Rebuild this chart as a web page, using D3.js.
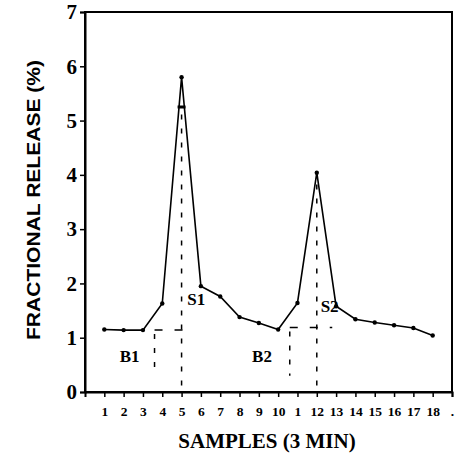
<!DOCTYPE html>
<html>
<head>
<meta charset="utf-8">
<script src="https://cdn.jsdelivr.net/npm/d3@7"></script>
<style>
  body { margin: 0; background: #fff; }
  svg { display: block; }
</style>
</head>
<body>
<svg id="chart" width="460" height="454"></svg>
<script>
// data
const samples = [1, 2, 3, 4, 5, 6, 7, 8, 9, 10, 11, 12, 13, 14, 15, 16, 17, 18]
const release = [1.15, 1.14, 1.14, 1.63, 5.8, 1.95, 1.76, 1.38, 1.27, 1.15, 1.64, 4.04, 1.58, 1.34, 1.28, 1.23, 1.18, 1.04]
const xTickValues = [1, 2, 3, 4, 5, 6, 7, 8, 9, 10, 11, 12, 13, 14, 15, 16, 17, 18, 19]
const xTickLabels = ["1", "2", "3", "4", "5", "6", "7", "8", "9", "10", "1", "12", "13", "14", "15", "16", "17", "18", "."]
const yTickValues = [0, 1, 2, 3, 4, 5, 6, 7]
// basal (B) and stimulated (S) periods
const periodNames = ["B1", "S1", "B2", "S2"]
const periodLabelX = [1.8, 5.3, 8.65, 12.2]
const periodLabelY = [0.55, 1.6, 0.55, 1.48]
const baseStart = [3.6, 10.6]
const baseEnd = [5.2, 12.8]
const baseLevel = [1.14, 1.19]
const peakX = [5, 12]
const peakLevel = [5.25, 4.0]

const svg = d3.select("#chart")
const margin = {left: 85, right: 8, top: 12, bottom: 62}
const W = 460, H = 454

const x = d3.scaleLinear().domain([0, 19]).range([margin.left, W - margin.right])
const y = d3.scaleLinear().domain([0, 7]).range([H - margin.bottom, margin.top])

// frame
svg.append("rect")
    .attr("x", x(0)).attr("y", y(7))
    .attr("width", x(19) - x(0)).attr("height", y(0) - y(7))
    .attr("fill", "none").attr("stroke", "#000").attr("stroke-width", 2)

// axes
const xAxis = d3.axisBottom(x)
    .tickValues(xTickValues)
    .tickSize(5)
    .tickFormat((d, i) => xTickLabels[i])
const gx = svg.append("g").attr("transform", `translate(0,${y(0)})`).call(xAxis)
gx.select(".domain").attr("stroke-width", 2)
gx.selectAll(".tick line").attr("stroke-width", 1.5)
gx.selectAll(".tick text")
    .attr("dy", "1.2em")
    .style("font-family", "'Liberation Serif', 'DejaVu Serif', serif")
    .style("font-weight", "bold")
    .style("font-size", "13.5px")
    .attr("fill", "#000")

const yAxis = d3.axisLeft(y).tickValues(yTickValues).tickSize(5).tickFormat(d3.format("d"))
const gy = svg.append("g").attr("transform", `translate(${x(0)},0)`).call(yAxis)
gy.select(".domain").attr("stroke-width", 2)
gy.selectAll(".tick line").attr("stroke-width", 1.5)
gy.selectAll(".tick text")
    .attr("x", -8)
    .style("font-family", "'Liberation Serif', 'DejaVu Serif', serif")
    .style("font-weight", "bold")
    .style("font-size", "21px")
    .attr("fill", "#000")

// axis titles
svg.append("text")
    .attr("x", 267).attr("y", 448)
    .attr("text-anchor", "middle")
    .style("font-family", "'Liberation Serif', serif")
    .style("font-weight", "bold")
    .style("font-size", "21px")
    .text("SAMPLES (3 MIN)")

svg.append("text")
    .attr("transform", "translate(40,200) rotate(-90)")
    .attr("text-anchor", "middle")
    .attr("textLength", 280)
    .attr("lengthAdjust", "spacingAndGlyphs")
    .style("font-family", "'Liberation Sans', Arial, sans-serif")
    .style("font-weight", "bold")
    .style("font-size", "19px")
    .text("FRACTIONAL RELEASE (%)")

// dashed guides
const hDash = "8,12"
const vDash = "5,9"
baseStart.forEach((b, i) => {
    svg.append("line")
        .attr("x1", x(b)).attr("x2", x(baseEnd[i]))
        .attr("y1", y(baseLevel[i])).attr("y2", y(baseLevel[i]))
        .attr("stroke", "#000").attr("stroke-width", 1.5).attr("stroke-dasharray", hDash)
    svg.append("line")
        .attr("x1", x(b)).attr("x2", x(b))
        .attr("y1", y(baseLevel[i]) + 4).attr("y2", y(0.3))
        .attr("stroke", "#000").attr("stroke-width", 1.5).attr("stroke-dasharray", vDash)
})
peakX.forEach((p, i) => {
    svg.append("line")
        .attr("x1", x(p)).attr("x2", x(p))
        .attr("y1", y(0.12)).attr("y2", y(peakLevel[i]))
        .attr("stroke", "#000").attr("stroke-width", 1.5).attr("stroke-dasharray", vDash)
})

// release curve
const pts = samples.map((s, i) => [s, release[i]])
svg.append("path")
    .datum(pts)
    .attr("d", d3.line().x(d => x(d[0])).y(d => y(d[1])))
    .attr("fill", "none").attr("stroke", "#000").attr("stroke-width", 1.6)

svg.append("g").selectAll("circle")
    .data(pts)
    .join("circle")
    .attr("cx", d => x(d[0])).attr("cy", d => y(d[1]))
    .attr("r", 2.2).attr("fill", "#000")

// thick mark inside the first peak
svg.append("line")
    .attr("x1", x(peakX[0]) - 4).attr("x2", x(peakX[0]) + 4)
    .attr("y1", y(peakLevel[0])).attr("y2", y(peakLevel[0]))
    .attr("stroke", "#000").attr("stroke-width", 3)

// period labels
svg.append("g").selectAll("text")
    .data(periodNames)
    .join("text")
    .attr("x", (d, i) => x(periodLabelX[i]))
    .attr("y", (d, i) => y(periodLabelY[i]))
    .style("font-family", "'Liberation Serif', serif")
    .style("font-weight", "bold")
    .style("font-size", "17px")
    .text(d => d)
</script>
</body>
</html>
